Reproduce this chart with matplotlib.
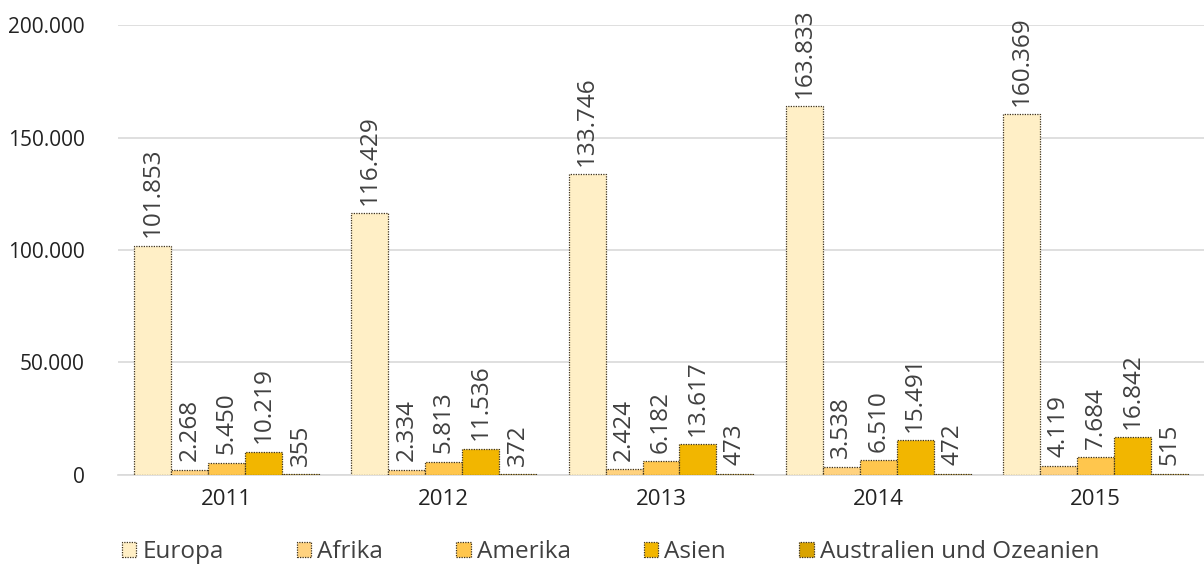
import matplotlib.pyplot as plt
import numpy as np

years = ["2011", "2012", "2013", "2014", "2015"]
regions = ["Europa", "Afrika", "Amerika", "Asien", "Australien und Ozeanien"]
europa = [101853, 116429, 133746, 163833, 160369]
afrika = [2268, 2334, 2424, 3538, 4119]
amerika = [5450, 5813, 6182, 6510, 7684]
asien = [10219, 11536, 13617, 15491, 16842]
australien = [355, 372, 473, 472, 515]
series = [europa, afrika, amerika, asien, australien]
colors = ["#FFEFC6", "#FFD27F", "#FFC64D", "#F2B600", "#D9A300"]

plt.rcParams['font.family'] = ['Open Sans', 'DejaVu Sans']

fig = plt.figure(figsize=(12.04, 5.72), dpi=100)
ax = fig.add_axes([0.098, 0.17, 0.902, 0.786])

x = np.arange(len(years))
w = 0.17
for i, (name, vals) in enumerate(zip(regions, series)):
    pos = x + (i - 2) * w
    ax.bar(pos, vals, w, color=colors[i], edgecolor="#3d3320", linewidth=0.9,
           linestyle=(0, (1, 1)), label=name, zorder=3)
    for p, v in zip(pos, vals):
        lbl = "{:,}".format(v).replace(",", ".")
        ax.annotate(lbl, (p, v), xytext=(0, 6), textcoords="offset points",
                    rotation=90, ha="center", va="bottom",
                    fontsize=17.5, color="#404040", annotation_clip=False)

ax.set_ylim(0, 200000)
ax.set_xlim(-0.5, 4.5)
ax.set_yticks([0, 50000, 100000, 150000, 200000])
ax.set_yticklabels(["0", "50.000", "100.000", "150.000", "200.000"])
ax.set_xticks(x)
ax.set_xticklabels(years)
ax.tick_params(axis="y", length=0, pad=24, labelsize=15, labelcolor="#222222")
ax.tick_params(axis="x", length=0, pad=10, labelsize=16, labelcolor="#222222")
ax.grid(axis="y", color="#d9d9d9", linewidth=1.2, zorder=0)
for s in ["top", "right", "left"]:
    ax.spines[s].set_visible(False)
ax.spines["bottom"].set_color("#d9d9d9")
ax.spines["bottom"].set_linewidth(1.2)

ax.legend(loc="lower left", bbox_to_anchor=(0.083, -0.024), bbox_transform=fig.transFigure,
          ncol=5, frameon=False, fontsize=17.5, handlelength=0.6, handleheight=0.6,
          handletextpad=0.25, columnspacing=3.0, labelcolor="#404040")

fig.savefig("out.png", dpi=100)
